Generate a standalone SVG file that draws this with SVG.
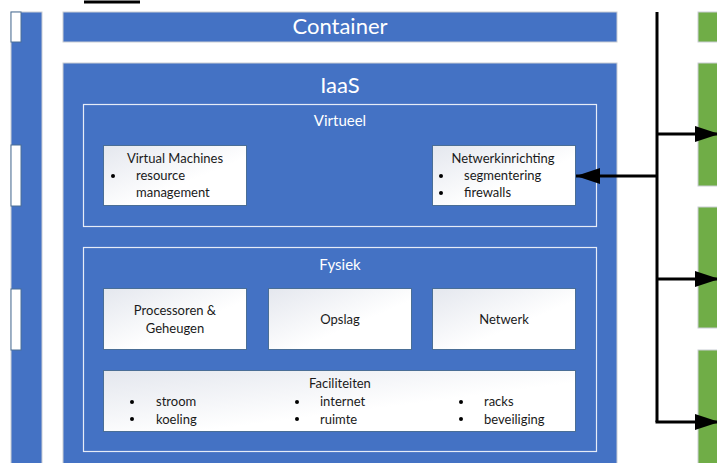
<svg xmlns="http://www.w3.org/2000/svg" width="717" height="463" viewBox="0 0 717 463">
  <defs>
    <linearGradient id="card" x1="0" y1="0" x2="1" y2="1">
      <stop offset="0" stop-color="#E4E7EE"/>
      <stop offset="0.6" stop-color="#FFFFFF"/>
      <stop offset="1" stop-color="#FFFFFF"/>
    </linearGradient>
    <marker id="arrow" viewBox="0 0 24 16" refX="24" refY="8" markerWidth="24" markerHeight="16" markerUnits="userSpaceOnUse" orient="auto">
      <path d="M0,0 L24,8 L0,16 Z" fill="#000"/>
    </marker>
  </defs>
  <style>
    .blue { fill: #4472C4; stroke: #C9CDD4; stroke-width: 1; }
    .green { fill: #70AD47; stroke: #C9CDD4; stroke-width: 1; }
    .frame { fill: none; stroke: #E6ECF7; stroke-width: 1.2; }
    .card { fill: url(#card); stroke: #4A6E96; stroke-width: 1; }
    .head { font-family: Lato, "Liberation Sans", sans-serif; fill: #FFFFFF; text-anchor: middle; }
    .t { font-family: Lato, "Liberation Sans", sans-serif; font-size: 13px; fill: #1A1A1A; }
    .c { text-anchor: middle; }
    .wire { fill: none; stroke: #000; stroke-width: 3; }
  </style>

  <rect width="717" height="463" fill="#FFFFFF"/>

  <!-- left column -->
  <g id="left-column">
    <rect class="blue" x="11" y="12" width="31" height="455"/>
    <rect x="11" y="12" width="10" height="30" fill="#FFFFFF" stroke="#4A6E96" stroke-width="1"/>
    <rect x="11" y="145" width="10" height="61" fill="#FFFFFF" stroke="#4A6E96" stroke-width="1"/>
    <rect x="11" y="289" width="10" height="61" fill="#FFFFFF" stroke="#4A6E96" stroke-width="1"/>
  </g>

  <line x1="84" y1="2" x2="140" y2="2" stroke="#000" stroke-width="3"/>

  <!-- Container layer -->
  <g id="container">
    <rect class="blue" x="63" y="12" width="554" height="30"/>
    <text class="head" x="340" y="34" font-size="22">Container</text>
  </g>

  <!-- IaaS layer -->
  <g id="iaas">
    <rect class="blue" x="63" y="63" width="554" height="405"/>
    <text class="head" x="340" y="93" font-size="22">IaaS</text>
  </g>

  <g id="virtueel">
    <rect class="frame" x="83.5" y="104.5" width="513" height="122"/>
    <text class="head" x="340" y="126" font-size="15">Virtueel</text>
  </g>

  <g id="virtual-machines">
    <rect class="card" x="103.5" y="145.5" width="143" height="60"/>
    <text class="t c" x="175" y="163">Virtual Machines</text>
    <circle cx="113" cy="176" r="2"/>
    <text class="t" x="136" y="180">resource</text>
    <text class="t" x="136" y="197">management</text>
  </g>

  <g id="netwerkinrichting">
    <rect class="card" x="432.5" y="145.5" width="143" height="60"/>
    <text class="t c" x="503" y="163">Netwerkinrichting</text>
    <circle cx="441" cy="176" r="2"/>
    <text class="t" x="464" y="180">segmentering</text>
    <circle cx="441" cy="193" r="2"/>
    <text class="t" x="464" y="197">firewalls</text>
  </g>

  <g id="fysiek">
    <rect class="frame" x="83.5" y="247.5" width="513" height="204"/>
    <text class="head" x="340" y="270" font-size="15">Fysiek</text>
  </g>

  <g id="processoren">
    <rect class="card" x="103.5" y="288.5" width="143" height="61"/>
    <text class="t c" x="175" y="315">Processoren &amp;</text>
    <text class="t c" x="175" y="333">Geheugen</text>
  </g>

  <g id="opslag">
    <rect class="card" x="268.5" y="288.5" width="143" height="61"/>
    <text class="t c" x="340" y="324">Opslag</text>
  </g>

  <g id="netwerk">
    <rect class="card" x="432.5" y="288.5" width="143" height="61"/>
    <text class="t c" x="504" y="324">Netwerk</text>
  </g>

  <g id="faciliteiten">
    <rect class="card" x="103.5" y="370.5" width="472" height="61"/>
    <text class="t c" x="340" y="388">Faciliteiten</text>
    <circle cx="132" cy="402" r="2"/>
    <text class="t" x="156" y="406">stroom</text>
    <circle cx="132" cy="419" r="2"/>
    <text class="t" x="156" y="424">koeling</text>
    <circle cx="297" cy="402" r="2"/>
    <text class="t" x="320" y="406">internet</text>
    <circle cx="297" cy="419" r="2"/>
    <text class="t" x="320" y="424">ruimte</text>
    <circle cx="461" cy="402" r="2"/>
    <text class="t" x="484" y="406">racks</text>
    <circle cx="461" cy="419" r="2"/>
    <text class="t" x="484" y="424">beveiliging</text>
  </g>

  <!-- right column -->
  <g id="right-column">
    <rect class="green" x="698" y="12" width="25" height="30"/>
    <rect class="green" x="698" y="63" width="25" height="123"/>
    <rect class="green" x="698" y="207" width="25" height="121"/>
    <rect class="green" x="698" y="350" width="25" height="120"/>
  </g>

  <!-- connectors -->
  <g id="connectors">
    <path class="wire" d="M657,12 L657,422"/>
    <path class="wire" d="M657,134 L719,134" marker-end="url(#arrow)"/>
    <path class="wire" d="M657,176 L576,176" marker-end="url(#arrow)"/>
    <path class="wire" d="M657,279 L719,279" marker-end="url(#arrow)"/>
    <path class="wire" d="M655.5,422 L719,422" marker-end="url(#arrow)"/>
  </g>
</svg>
